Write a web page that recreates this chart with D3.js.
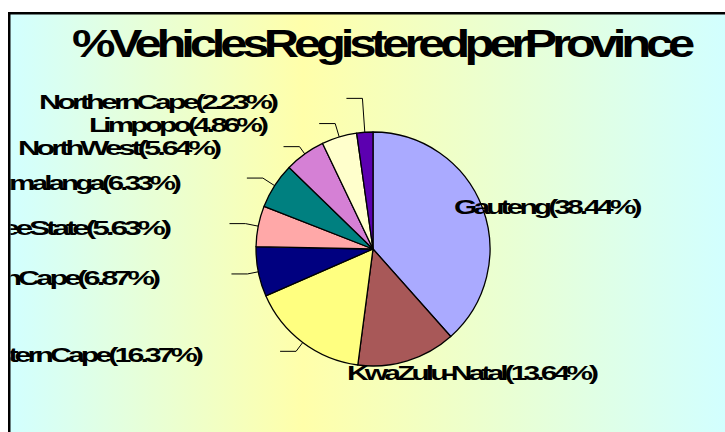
<!DOCTYPE html>
<html>
<head>
<meta charset="utf-8">
<script src="https://cdn.jsdelivr.net/npm/d3@7"></script>
<style>
  html, body { margin: 0; padding: 0; background: #ffffff; }
  svg { display: block; }
  text { font-family: "Liberation Sans", Arial, sans-serif; font-weight: bold; fill: #000; }
</style>
</head>
<body>
<svg id="chart" width="725" height="432"></svg>
<script>
// ---- data ----
const title = "% Vehicles Registered per Province";
const categories = ["Gauteng", "KwaZulu-Natal", "Western Cape", "Eastern Cape", "Free State",
                    "Mpumalanga", "North West", "Limpopo", "Northern Cape"];
const values = [38.44, 13.64, 16.37, 6.87, 5.63, 6.33, 5.64, 4.86, 2.23];

// ---- styles / layout (kept separate from data) ----
const palette = ["#aaaaff", "#a85858", "#ffff80", "#000080", "#ffa8a8",
                 "#008080", "#d580d5", "#ffffcc", "#5c00b0"];
const labelLayout = [
  { x: 454, y: 214, anchor: "start", elbow: null },
  { x: 347, y: 380, anchor: "start", elbow: null },
  { x: 200, y: 362, anchor: "end", elbow: 128 },
  { x: 157, y: 285, anchor: "end", elbow: 128 },
  { x: 168, y: 235, anchor: "end", elbow: 130 },
  { x: 178, y: 190, anchor: "end", elbow: 131 },
  { x: 218, y: 155, anchor: "end", elbow: 126 },
  { x: 265, y: 131.5, anchor: "end", elbow: 131 },
  { x: 275, y: 109, anchor: "end", elbow: 151 }
];

const W = 725, H = 432;
const cx = 373, cy = 249, R = 117;

const svg = d3.select("#chart");
const defs = svg.append("defs");

const grad = defs.append("linearGradient")
  .attr("id", "bg").attr("gradientUnits", "userSpaceOnUse")
  .attr("x1", 10).attr("y1", 0).attr("x2", 725).attr("y2", 0);
grad.append("stop").attr("offset", 0).attr("stop-color", "#d2ffff");
grad.append("stop").attr("offset", 0.41).attr("stop-color", "#ffffaa");
grad.append("stop").attr("offset", 1).attr("stop-color", "#d2ffff");

defs.append("clipPath").attr("id", "area")
  .append("rect").attr("x", 10.5).attr("y", 14.5).attr("width", 900).attr("height", 600);

// chart area
svg.append("rect")
  .attr("x", 9.25).attr("y", 13.25).attr("width", 900).attr("height", 600)
  .attr("fill", "url(#bg)").attr("stroke", "#000").attr("stroke-width", 2.5);

const g = svg.append("g").attr("clip-path", "url(#area)");

// condensed, overlapping text look: measure natural width, then tighten and stretch back
function squeeze(sel, factor, ls, ws) {
  sel.each(function () {
    const w = this.getComputedTextLength();
    d3.select(this)
      .attr("letter-spacing", ls)
      .attr("word-spacing", ws)
      .attr("textLength", w * factor)
      .attr("lengthAdjust", "spacingAndGlyphs");
  });
}

// title
const t = g.append("text")
  .attr("x", 381).attr("y", 57)
  .attr("text-anchor", "middle")
  .attr("font-size", 38)
  .text(title);
t.each(function () {
  d3.select(this)
    .attr("letter-spacing", -4)
    .attr("word-spacing", -7)
    .attr("textLength", 618)
    .attr("lengthAdjust", "spacingAndGlyphs");
});

// pie
const pie = d3.pie().sort(null).value(d => d)(values);
const arc = d3.arc().innerRadius(0).outerRadius(R);

const pg = g.append("g").attr("transform", `translate(${cx},${cy})`);
pg.selectAll("path.slice")
  .data(pie)
  .join("path")
  .attr("class", "slice")
  .attr("d", arc)
  .attr("fill", (d, i) => palette[i])
  .attr("stroke", "#000")
  .attr("stroke-width", 1.3)
  .attr("stroke-linejoin", "round");

// leader lines
function polar(a, r) { return [r * Math.sin(a), -r * Math.cos(a)]; }
const leaders = pie.map((d, i) => ({ d, L: labelLayout[i] })).filter(o => o.L.elbow);
pg.selectAll("path.leader")
  .data(leaders)
  .join("path")
  .attr("class", "leader")
  .attr("fill", "none")
  .attr("stroke", "#000")
  .attr("stroke-width", 1)
  .attr("d", o => {
    const a = (o.d.startAngle + o.d.endAngle) / 2;
    const p0 = polar(a, R);
    const p1 = polar(a, o.L.elbow);
    const p2 = [p1[0] - 16, p1[1]];
    return d3.line()([p0, p1, p2]);
  });

// labels
const fmt = d3.format(".2f");
const labels = g.selectAll("text.lbl")
  .data(pie)
  .join("text")
  .attr("class", "lbl")
  .attr("x", (d, i) => labelLayout[i].x)
  .attr("y", (d, i) => labelLayout[i].y)
  .attr("text-anchor", (d, i) => labelLayout[i].anchor)
  .attr("font-size", 20)
  .text((d, i) => `${categories[i]} (${fmt(values[i])}%)`);
squeeze(labels, 1.1, -2.6, -3);
</script>
</body>
</html>
